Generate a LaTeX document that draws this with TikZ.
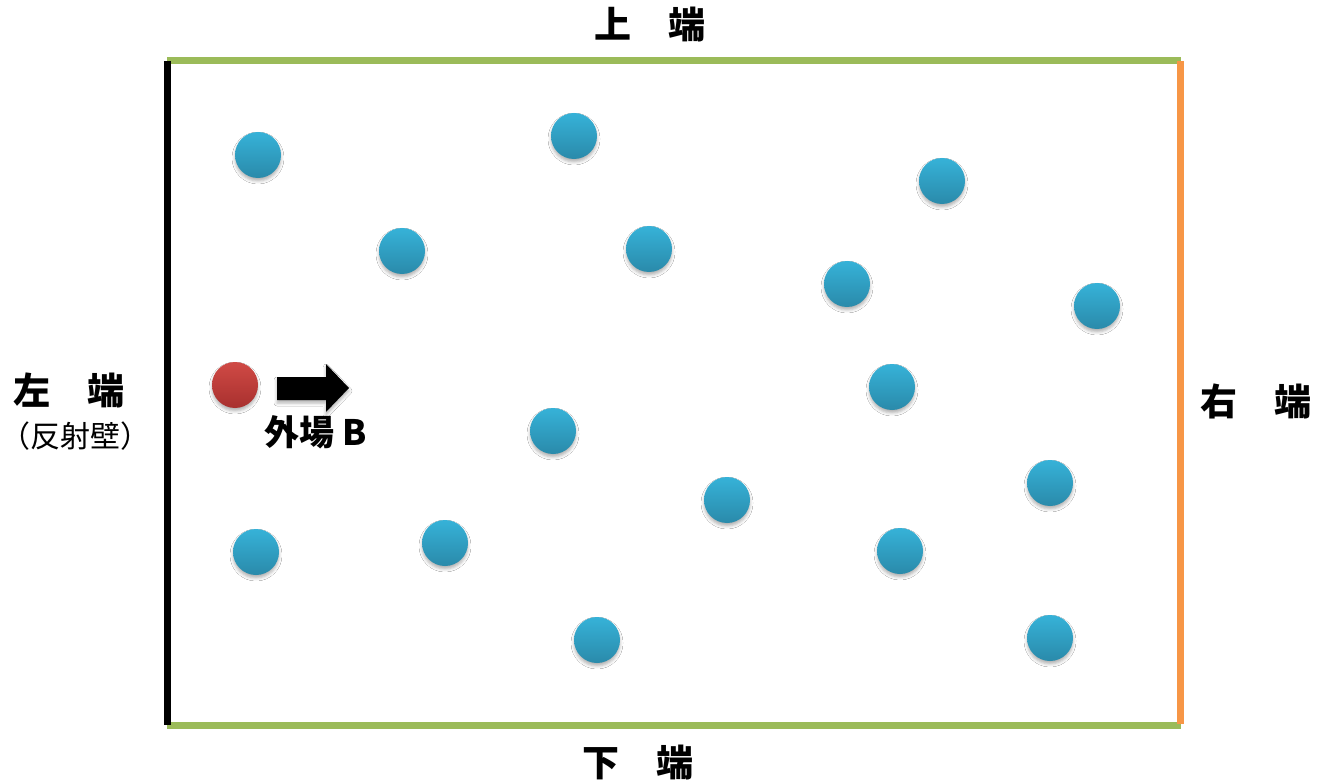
\documentclass[tikz,border=0pt]{standalone}
\usepackage{fontspec}
\newfontfamily\cjk{Noto Sans CJK JP}
\usetikzlibrary{shadows.blur}
\definecolor{ballTop}{HTML}{36B2D8}
\definecolor{ballBot}{HTML}{2A8AAA}
\definecolor{redTop}{HTML}{D04A45}
\definecolor{redBot}{HTML}{A8302E}
\definecolor{edgeGreen}{HTML}{9BBB59}
\definecolor{edgeOrange}{HTML}{F79646}
\tikzset{
  ball/.style={circle, minimum size=46pt, inner sep=0pt, top color=ballTop, bottom color=ballBot,
    blur shadow={shadow xshift=0pt, shadow yshift=-3pt, shadow blur radius=3pt, shadow opacity=30}},
  redball/.style={ball, top color=redTop, bottom color=redBot},
  edge/.style={line width=7pt},
  lbl/.style={inner sep=0pt, font=\cjk\bfseries\fontsize{37}{37}\selectfont},
  sublbl/.style={inner sep=0pt, font=\cjk\fontsize{30}{30}\selectfont},
}
\begin{document}
\begin{tikzpicture}[x=1pt,y=-1pt]
\useasboundingbox[fill=white] (0,0) rectangle (1327,783);
\coordinate (TL) at (167,61);
\coordinate (TR) at (1180,61);
\coordinate (BR) at (1180,725);
\coordinate (BL) at (167,725);
% edges
\draw[edge, edgeGreen] (TL) -- ([xshift=1pt]TR);
\draw[edge, edgeGreen] (BL) -- ([xshift=1pt]BR);
\draw[edge, black] (TL) -- (BL);
\draw[edge, edgeOrange] (TR) -- ([yshift=1pt]BR);
% particles
\node[ball] (b1) at (258,155) {};
\node[ball] (b2) at (574,136) {};
\node[ball] (b3) at (942,181) {};
\node[ball] (b4) at (402,251) {};
\node[ball] (b5) at (649,249) {};
\node[ball] (b6) at (847,284) {};
\node[ball] (b7) at (1097,306) {};
\node[ball] (b8) at (892,387) {};
\node[ball] (b9) at (553,431) {};
\node[ball] (b10) at (1050,483) {};
\node[ball] (b11) at (727,500) {};
\node[ball] (b12) at (256,552) {};
\node[ball] (b13) at (445,543) {};
\node[ball] (b14) at (900,551) {};
\node[ball] (b15) at (597,640) {};
\node[ball] (b16) at (1050,638) {};
\node[redball] (r) at (235,385) {};
% field arrow
\fill[black, blur shadow={shadow xshift=0pt, shadow yshift=-3pt, shadow blur radius=3pt, shadow opacity=30}]
  (277,377) -- (326,377) -- (326,364) -- (349,388) -- (326,412) -- (326,400) -- (277,400) -- cycle;
% labels
\node[lbl] (top) at (650,25) {上　端};
\node[lbl] (bot) at (638,763) {下　端};
\node[lbl] (left) at (69,390) {左　端};
\node[sublbl] (leftsub) at (75,436) {（反射壁）};
\node[lbl] (right) at (1256,401) {右　端};
\node[inner sep=0pt, font=\cjk\bfseries\fontsize{35}{35}\selectfont] (field) at (316,432) {外場\hspace{8pt}B};
\end{tikzpicture}
\end{document}
